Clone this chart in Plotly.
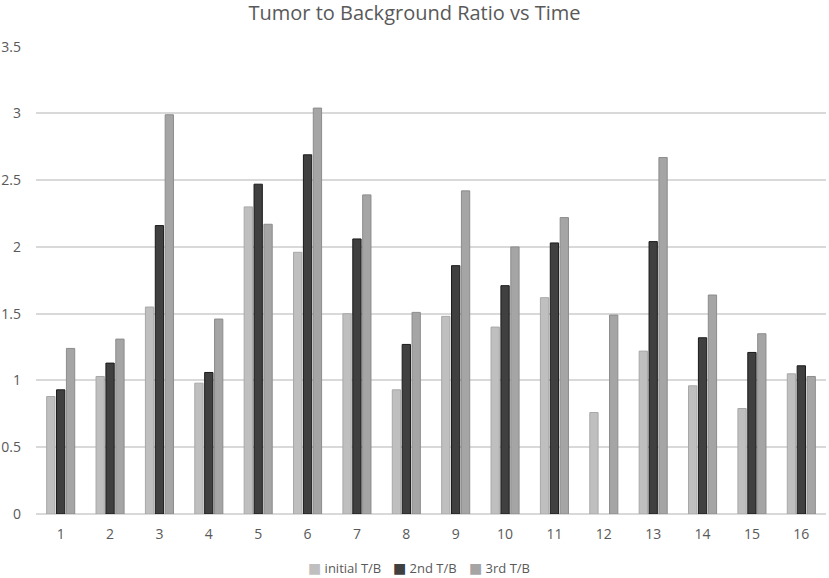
import plotly.graph_objects as go

categories = [str(i) for i in range(1, 17)]
initial_tb = [0.88, 1.03, 1.55, 0.98, 2.30, 1.96, 1.50, 0.93, 1.48, 1.40, 1.62, 0.76, 1.22, 0.96, 0.79, 1.05]
second_tb = [0.93, 1.13, 2.16, 1.06, 2.47, 2.69, 2.06, 1.27, 1.86, 1.71, 2.03, None, 2.04, 1.32, 1.21, 1.11]
third_tb = [1.24, 1.31, 2.99, 1.46, 2.17, 3.04, 2.39, 1.51, 2.42, 2.00, 2.22, 1.49, 2.67, 1.64, 1.35, 1.03]
series_names = ["initial T/B", "2nd T/B", "3rd T/B"]
series_values = [initial_tb, second_tb, third_tb]
fill_colors = ["#bfbfbf", "#404040", "#a5a5a5"]
edge_colors = ["#a8a8a8", "#1a1a1a", "#8c8c8c"]

W, H = 829, 578
L, R, T, B = 36, 3, 46, 64
plot_w = W - L - R
plot_h = H - T - B

fig = go.Figure()
for name, vals, col, edge in zip(series_names, series_values, fill_colors, edge_colors):
    fig.add_trace(go.Bar(
        x=categories, y=vals, name=name, showlegend=False,
        marker=dict(color=col, line=dict(color=edge, width=1)),
    ))

# legend drawn as annotations (small squares + labels)
legend_left_px = [306, 391, 467]
for name, col, px in zip(series_names, fill_colors, legend_left_px):
    fig.add_annotation(
        xref="paper", yref="paper", x=(px - L) / plot_w, y=-(567 - (H - B)) / plot_h,
        xanchor="left", yanchor="middle", showarrow=False,
        text=f"<span style='color:{col};font-size:14px'>■</span> {name}",
        font=dict(size=13, color="#595959"),
    )

fig.update_layout(
    width=W, height=H,
    paper_bgcolor="white", plot_bgcolor="white",
    font=dict(family="Open Sans, DejaVu Sans, sans-serif", color="#595959", size=14),
    title=dict(text="Tumor to Background Ratio vs Time", x=0.5, xanchor="center",
               yref="container", y=1 - 13 / H, yanchor="middle", font=dict(size=20, color="#595959")),
    margin=dict(l=L, r=R, t=T, b=B, autoexpand=False),
    barmode="group", bargap=0.4, bargroupgap=0.16,
    showlegend=False,
)
fig.update_yaxes(range=[0, 3.505], tickvals=[0, 0.5, 1, 1.5, 2, 2.5, 3, 3.5],
                 ticktext=["0", "0.5", "1", "1.5", "2", "2.5", "3", "3.5"],
                 showgrid=True, gridcolor="#d9d9d9", gridwidth=1.5,
                 zeroline=True, zerolinecolor="#d9d9d9", zerolinewidth=1.5, showline=False,
                 ticks="", ticklabelstandoff=14, tickfont=dict(color="#595959", size=14))
fig.update_xaxes(type="category", showgrid=False, showline=False, ticks="", ticklabelstandoff=10,
                 tickfont=dict(color="#595959", size=14))

fig.write_html("out.html", config={"displayModeBar": False},
               post_script="document.body.style.margin='0';")
